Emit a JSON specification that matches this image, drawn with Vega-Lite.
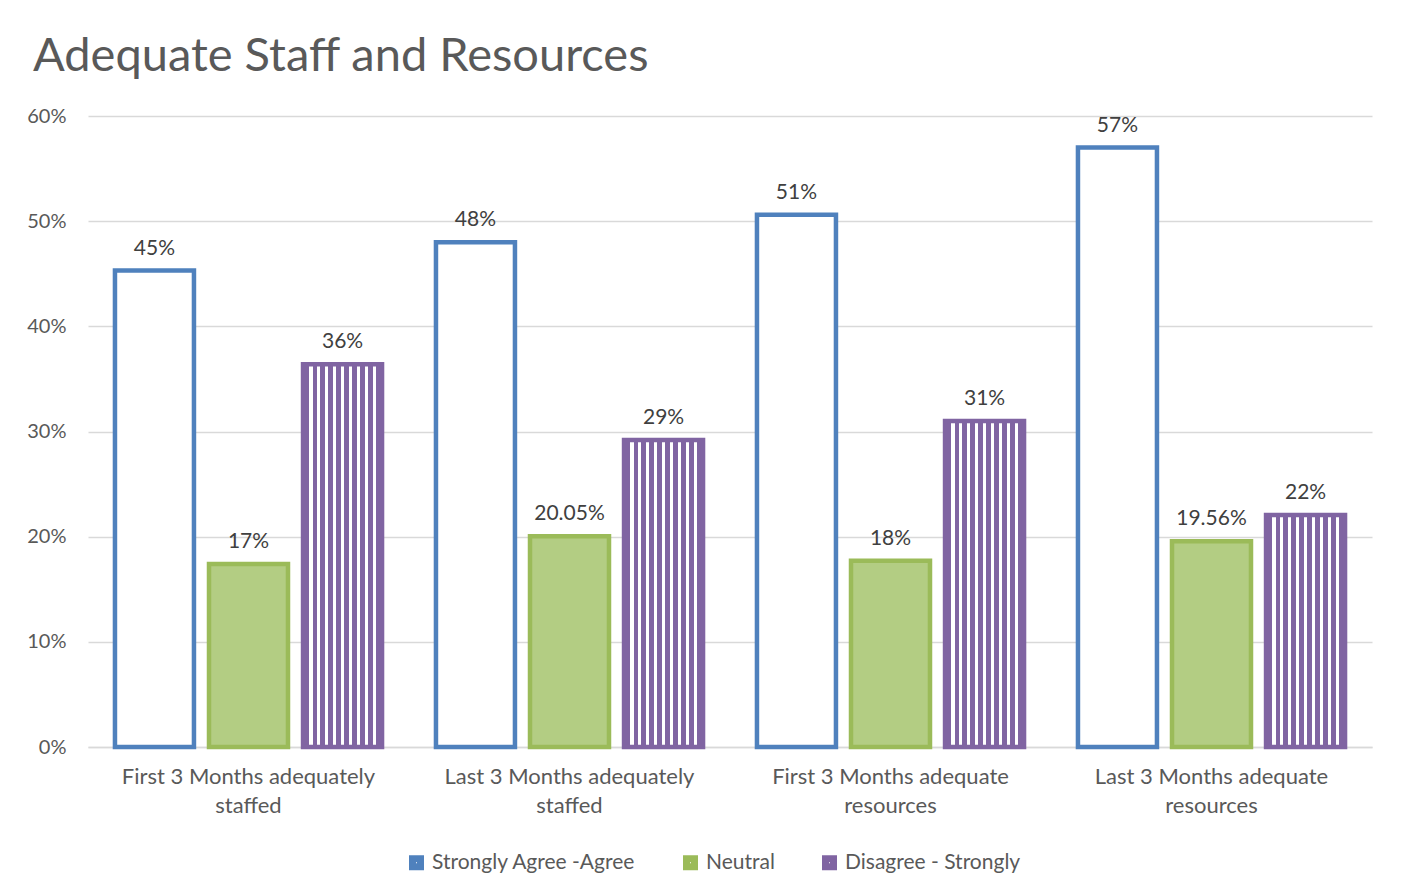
{
  "$schema": "https://vega.github.io/schema/vega-lite/v6.json",
  "width": 1284,
  "height": 631,
  "autosize": {"type": "none"},
  "padding": {"left": 88, "top": 116, "right": 29, "bottom": 149},
  "background": "white",
  "config": {"view": {"stroke": null}},
  "title": {
    "text": "Adequate Staff and Resources",
    "anchor": "start",
    "frame": "group",
    "dx": -55,
    "offset": 25,
    "fontSize": 47,
    "font": "Lato",
    "fontWeight": "normal",
    "color": "#595959"
  },
  "data": {
    "values": [
      {"category": "First 3 Months adequately staffed", "series": "Strongly Agree -Agree", "value": 0.453, "label": "45%"},
      {"category": "First 3 Months adequately staffed", "series": "Neutral", "value": 0.174, "label": "17%"},
      {"category": "First 3 Months adequately staffed", "series": "Disagree - Strongly", "value": 0.364, "label": "36%"},
      {"category": "Last 3 Months adequately staffed", "series": "Strongly Agree -Agree", "value": 0.480, "label": "48%"},
      {"category": "Last 3 Months adequately staffed", "series": "Neutral", "value": 0.2005, "label": "20.05%"},
      {"category": "Last 3 Months adequately staffed", "series": "Disagree - Strongly", "value": 0.292, "label": "29%"},
      {"category": "First 3 Months adequate resources", "series": "Strongly Agree -Agree", "value": 0.506, "label": "51%"},
      {"category": "First 3 Months adequate resources", "series": "Neutral", "value": 0.177, "label": "18%"},
      {"category": "First 3 Months adequate resources", "series": "Disagree - Strongly", "value": 0.310, "label": "31%"},
      {"category": "Last 3 Months adequate resources", "series": "Strongly Agree -Agree", "value": 0.570, "label": "57%"},
      {"category": "Last 3 Months adequate resources", "series": "Neutral", "value": 0.1956, "label": "19.56%"},
      {"category": "Last 3 Months adequate resources", "series": "Disagree - Strongly", "value": 0.2205, "label": "22%"}
    ]
  },
  "encoding": {
    "x": {
      "field": "category",
      "type": "nominal",
      "sort": null,
      "scale": {"paddingInner": 0.168, "paddingOuter": 0.084},
      "axis": {
        "title": null,
        "domain": true,
        "domainColor": "#D9D9D9",
        "domainWidth": 1.5,
        "ticks": false,
        "labelAngle": 0,
        "labelFont": "Lato",
        "labelFontSize": 22,
        "labelColor": "#595959",
        "labelPadding": 19,
        "labelLimit": 0,
        "labelLineHeight": 29,
        "labelExpr": "[slice(datum.label, 0, lastindexof(datum.label, ' ')), slice(datum.label, lastindexof(datum.label, ' ') + 1)]"
      }
    },
    "xOffset": {
      "field": "series",
      "type": "nominal",
      "sort": null,
      "scale": {"paddingInner": 0.16, "paddingOuter": 0}
    },
    "y": {
      "field": "value",
      "type": "quantitative",
      "scale": {"domain": [0, 0.6]},
      "axis": {
        "title": null,
        "format": ".0%",
        "values": [0, 0.1, 0.2, 0.3, 0.4, 0.5, 0.6],
        "domain": false,
        "ticks": false,
        "grid": true,
        "gridColor": "#D9D9D9",
        "gridWidth": 1.5,
        "labelFont": "Lato",
        "labelFontSize": 20,
        "labelColor": "#595959",
        "labelPadding": 22
      }
    }
  },
  "layer": [
    {
      "mark": {"type": "bar", "strokeWidth": 4.5},
      "encoding": {
        "stroke": {
          "field": "series",
          "type": "nominal",
          "sort": null,
          "scale": {
            "domain": ["Strongly Agree -Agree", "Neutral", "Disagree - Strongly"],
            "range": ["#4F81BD", "#9BBB59", "#8064A2"]
          },
          "legend": {
            "orient": "none",
            "legendX": 318,
            "legendY": 736,
            "direction": "horizontal",
            "title": null,
            "symbolType": "square",
            "symbolSize": 64,
            "symbolStrokeWidth": 7,
            "symbolFillColor": "#FFFFFF",
            "labelFont": "Lato",
            "labelFontSize": 21,
            "labelColor": "#595959",
            "labelLimit": 0,
            "labelOffset": 5,
            "columnPadding": 36
          }
        },
        "fill": {
          "condition": [
            {"test": "datum.series === 'Neutral'", "value": "#B3CD83"},
            {
              "test": "datum.series === 'Disagree - Strongly'",
              "value": {
                "gradient": "linear",
                "x1": 0, "y1": 0, "x2": 1, "y2": 0,
                "stops": [
                  {"offset": 0, "color": "#8064A2"},
                  {"offset": 0.08, "color": "#8064A2"},
                  {"offset": 0.08, "color": "#FFFFFF"},
                  {"offset": 0.12, "color": "#FFFFFF"},
                  {"offset": 0.12, "color": "#8064A2"},
                  {"offset": 0.18, "color": "#8064A2"},
                  {"offset": 0.18, "color": "#FFFFFF"},
                  {"offset": 0.22, "color": "#FFFFFF"},
                  {"offset": 0.22, "color": "#8064A2"},
                  {"offset": 0.28, "color": "#8064A2"},
                  {"offset": 0.28, "color": "#FFFFFF"},
                  {"offset": 0.32, "color": "#FFFFFF"},
                  {"offset": 0.32, "color": "#8064A2"},
                  {"offset": 0.38, "color": "#8064A2"},
                  {"offset": 0.38, "color": "#FFFFFF"},
                  {"offset": 0.42, "color": "#FFFFFF"},
                  {"offset": 0.42, "color": "#8064A2"},
                  {"offset": 0.48, "color": "#8064A2"},
                  {"offset": 0.48, "color": "#FFFFFF"},
                  {"offset": 0.52, "color": "#FFFFFF"},
                  {"offset": 0.52, "color": "#8064A2"},
                  {"offset": 0.58, "color": "#8064A2"},
                  {"offset": 0.58, "color": "#FFFFFF"},
                  {"offset": 0.62, "color": "#FFFFFF"},
                  {"offset": 0.62, "color": "#8064A2"},
                  {"offset": 0.68, "color": "#8064A2"},
                  {"offset": 0.68, "color": "#FFFFFF"},
                  {"offset": 0.72, "color": "#FFFFFF"},
                  {"offset": 0.72, "color": "#8064A2"},
                  {"offset": 0.78, "color": "#8064A2"},
                  {"offset": 0.78, "color": "#FFFFFF"},
                  {"offset": 0.82, "color": "#FFFFFF"},
                  {"offset": 0.82, "color": "#8064A2"},
                  {"offset": 0.88, "color": "#8064A2"},
                  {"offset": 0.88, "color": "#FFFFFF"},
                  {"offset": 0.92, "color": "#FFFFFF"},
                  {"offset": 0.92, "color": "#8064A2"},
                  {"offset": 1, "color": "#8064A2"}
                ]
              }
            }
          ],
          "value": "#FFFFFF"
        }
      }
    },
    {
      "mark": {"type": "text", "baseline": "bottom", "dy": -12, "font": "Lato", "fontSize": 21, "color": "#404040"},
      "encoding": {"text": {"field": "label", "type": "nominal"}}
    }
  ]
}
